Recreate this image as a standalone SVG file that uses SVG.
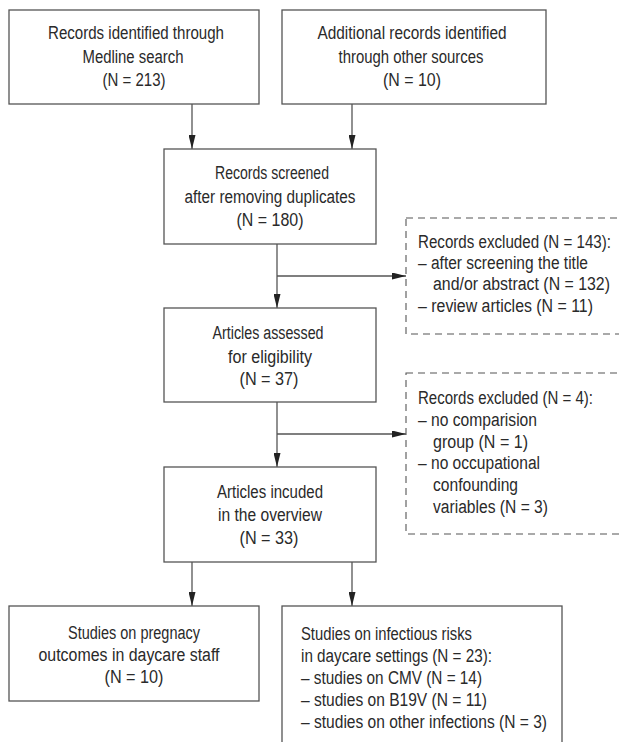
<svg xmlns="http://www.w3.org/2000/svg" width="619" height="742" viewBox="0 0 619 742">
<style>
.box{fill:#fff;stroke:#555;stroke-width:1.3}
.dash{fill:#fff;stroke:#555;stroke-width:1.1;stroke-dasharray:7 5}
.t{font-family:"Liberation Sans Narrow","Liberation Sans",Arial,sans-serif;font-size:18px;fill:#2a2a2a}
.c{text-anchor:middle}
.ln{stroke:#555;stroke-width:1.3;fill:none}
</style>
<defs>
<marker id="ah" markerUnits="userSpaceOnUse" markerWidth="14" markerHeight="7" refX="14" refY="3.5" orient="auto">
<path d="M0,0 L14,3.5 L0,7 Z" fill="#222"/>
</marker>
</defs>
<rect width="619" height="742" fill="#fff"/>
<g id="connectors">
<line class="ln" x1="192" y1="104" x2="192" y2="149" marker-end="url(#ah)"/>
<line class="ln" x1="352" y1="104" x2="352" y2="149" marker-end="url(#ah)"/>
<line class="ln" x1="277" y1="244" x2="277" y2="308" marker-end="url(#ah)"/>
<line class="ln" x1="277" y1="276" x2="406" y2="276" marker-end="url(#ah)"/>
<line class="ln" x1="277" y1="402" x2="277" y2="467" marker-end="url(#ah)"/>
<line class="ln" x1="277" y1="434" x2="406" y2="434" marker-end="url(#ah)"/>
<line class="ln" x1="192" y1="562" x2="192" y2="606" marker-end="url(#ah)"/>
<line class="ln" x1="352" y1="562" x2="352" y2="606" marker-end="url(#ah)"/>
</g>
<g id="n1">
<rect class="box" x="9" y="10" width="250" height="94"/>
<text class="t c" x="136" y="39" textLength="176" lengthAdjust="spacingAndGlyphs">Records identified through</text>
<text class="t c" x="133" y="63" textLength="101" lengthAdjust="spacingAndGlyphs">Medline search</text>
<text class="t c" x="134" y="86" textLength="63" lengthAdjust="spacingAndGlyphs">(N = 213)</text>
</g>
<g id="n2">
<rect class="box" x="282" y="10" width="264" height="94"/>
<text class="t c" x="412" y="39" textLength="189" lengthAdjust="spacingAndGlyphs">Additional records identified</text>
<text class="t c" x="411" y="63" textLength="145" lengthAdjust="spacingAndGlyphs">through other sources</text>
<text class="t c" x="412" y="86" textLength="58" lengthAdjust="spacingAndGlyphs">(N = 10)</text>
</g>
<g id="n3">
<rect class="box" x="164" y="149" width="212" height="95"/>
<text class="t c" x="272" y="179" textLength="114" lengthAdjust="spacingAndGlyphs">Records screened</text>
<text class="t c" x="270" y="203" textLength="171" lengthAdjust="spacingAndGlyphs">after removing duplicates</text>
<text class="t c" x="270" y="226" textLength="67" lengthAdjust="spacingAndGlyphs">(N = 180)</text>
</g>
<g id="x1">
<rect class="dash" x="406" y="218" width="230" height="116"/>
<text class="t" x="418" y="248" textLength="193" lengthAdjust="spacingAndGlyphs">Records excluded (N = 143):</text>
<text class="t" x="418" y="269" textLength="170" lengthAdjust="spacingAndGlyphs">– after screening the title</text>
<text class="t" x="433" y="290" textLength="177" lengthAdjust="spacingAndGlyphs">and/or abstract (N = 132)</text>
<text class="t" x="418" y="312" textLength="175" lengthAdjust="spacingAndGlyphs">– review articles (N = 11)</text>
</g>
<g id="n4">
<rect class="box" x="164" y="308" width="212" height="94"/>
<text class="t c" x="268" y="339" textLength="111" lengthAdjust="spacingAndGlyphs">Articles assessed</text>
<text class="t c" x="270" y="363" textLength="84" lengthAdjust="spacingAndGlyphs">for eligibility</text>
<text class="t c" x="269" y="385" textLength="59" lengthAdjust="spacingAndGlyphs">(N = 37)</text>
</g>
<g id="x2">
<rect class="dash" x="406" y="373" width="230" height="161"/>
<text class="t" x="418" y="404" textLength="175" lengthAdjust="spacingAndGlyphs">Records excluded (N = 4):</text>
<text class="t" x="418" y="426" textLength="119" lengthAdjust="spacingAndGlyphs">– no comparision</text>
<text class="t" x="433" y="448" textLength="95" lengthAdjust="spacingAndGlyphs">group (N = 1)</text>
<text class="t" x="418" y="469" textLength="122" lengthAdjust="spacingAndGlyphs">– no occupational</text>
<text class="t" x="433" y="491" textLength="85" lengthAdjust="spacingAndGlyphs">confounding</text>
<text class="t" x="433" y="513" textLength="115" lengthAdjust="spacingAndGlyphs">variables (N = 3)</text>
</g>
<g id="n5">
<rect class="box" x="164" y="467" width="212" height="95"/>
<text class="t c" x="270" y="498" textLength="106" lengthAdjust="spacingAndGlyphs">Articles incuded</text>
<text class="t c" x="270" y="521" textLength="104" lengthAdjust="spacingAndGlyphs">in the overview</text>
<text class="t c" x="269" y="544" textLength="59" lengthAdjust="spacingAndGlyphs">(N = 33)</text>
</g>
<g id="n6">
<rect class="box" x="9" y="606" width="250" height="95"/>
<text class="t c" x="134" y="639" textLength="132" lengthAdjust="spacingAndGlyphs">Studies on pregnacy</text>
<text class="t c" x="129" y="661" textLength="181" lengthAdjust="spacingAndGlyphs">outcomes in daycare staff</text>
<text class="t c" x="134" y="683" textLength="59" lengthAdjust="spacingAndGlyphs">(N = 10)</text>
</g>
<g id="n7">
<rect class="box" x="282" y="606" width="280" height="160"/>
<text class="t" x="301" y="640" textLength="171" lengthAdjust="spacingAndGlyphs">Studies on infectious risks</text>
<text class="t" x="301" y="662" textLength="191" lengthAdjust="spacingAndGlyphs">in daycare settings (N = 23):</text>
<text class="t" x="301" y="684" textLength="181" lengthAdjust="spacingAndGlyphs">– studies on CMV (N = 14)</text>
<text class="t" x="301" y="706" textLength="186" lengthAdjust="spacingAndGlyphs">– studies on B19V (N = 11)</text>
<text class="t" x="301" y="728" textLength="246" lengthAdjust="spacingAndGlyphs">– studies on other infections (N = 3)</text>
</g>
</svg>
